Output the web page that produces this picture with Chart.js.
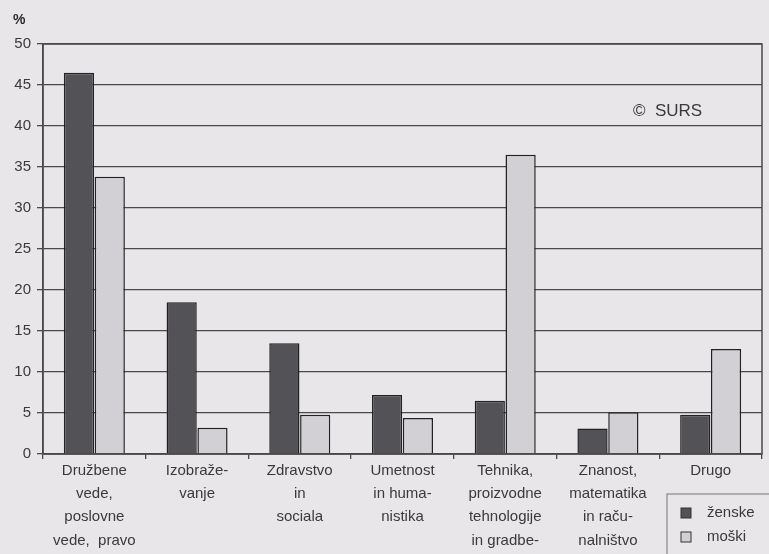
<!DOCTYPE html>
<html>
<head>
<meta charset="utf-8">
<script src="https://cdn.jsdelivr.net/npm/chart.js@4"></script>
<style>
  html, body { margin: 0; padding: 0; background: #e8e6e9; }
  #wrap { width: 769px; height: 554px; position: relative; }
</style>
</head>
<body>
<div id="wrap"><canvas id="chart" width="769" height="554"></canvas></div>
<script>
// podatki
const categories = [
  ['Družbene', 'vede,', 'poslovne', 'vede,  pravo'],
  ['Izobraže-', 'vanje'],
  ['Zdravstvo', 'in', 'sociala'],
  ['Umetnost', 'in huma-', 'nistika'],
  ['Tehnika,', 'proizvodne', 'tehnologije', 'in gradbe-', 'ništvo'],
  ['Znanost,', 'matematika', 'in raču-', 'nalništvo'],
  ['Drugo']
];
const zenske = [46.5, 18.5, 13.5, 7.2, 6.5, 3.1, 4.8];
const moski = [33.8, 3.2, 4.8, 4.4, 36.5, 5.1, 12.8];
const seriesNames = ['ženske', 'moški'];
const yTicks = [0, 5, 10, 15, 20, 25, 30, 35, 40, 45, 50];

const textColor = '#3a3a3a';
const lineColor = '#4a4a4a';
const darkFill = '#535256';
const lightFill = '#d2d0d4';
const font = '"Liberation Sans", Arial, sans-serif';

// ozadje, okvir, % in SURS, legenda
const extras = {
  id: 'extras',
  beforeDraw(chart) {
    const c = chart.ctx;
    c.save();
    c.fillStyle = '#e8e6e9';
    c.fillRect(0, 0, chart.width, chart.height);
    c.restore();
  },
  afterDraw(chart) {
    const c = chart.ctx;
    const a = chart.chartArea;
    c.save();
    c.strokeStyle = lineColor;
    c.lineWidth = 1.5;
    c.strokeRect(a.left, a.top, a.right - a.left, a.bottom - a.top);
    c.fillStyle = '#2a2a2a';
    c.font = 'bold 14px ' + font;
    c.textAlign = 'left';
    c.textBaseline = 'middle';
    c.fillText('%', 13, 20);
    c.fillStyle = textColor;
    c.font = '17px ' + font;
    c.fillText('©  SURS', 633, 111);

    // legenda
    const lx = 667, ly = 494, lw = 110, lh = 62;
    c.fillStyle = '#e8e6e9';
    c.fillRect(lx, ly, lw, lh);
    c.strokeStyle = '#777';
    c.lineWidth = 1;
    c.strokeRect(lx, ly, lw, lh);
    const fills = [darkFill, lightFill];
    c.font = '15px ' + font;
    seriesNames.forEach((name, i) => {
      const y = 513 + i * 24;
      c.fillStyle = fills[i];
      c.fillRect(681, y - 5, 10, 10);
      c.strokeStyle = '#333';
      c.lineWidth = 1;
      c.strokeRect(681, y - 5, 10, 10);
      c.fillStyle = textColor;
      c.fillText(name, 707, y);
    });
    c.restore();
  }
};

new Chart(document.getElementById('chart'), {
  type: 'bar',
  data: {
    labels: categories,
    datasets: [
      {
        label: seriesNames[0],
        data: zenske,
        backgroundColor: darkFill,
        borderColor: '#222',
        borderWidth: 1.5,
        categoryPercentage: 0.6,
        barPercentage: 0.98
      },
      {
        label: seriesNames[1],
        data: moski,
        backgroundColor: lightFill,
        borderColor: '#222',
        borderWidth: 1.5,
        categoryPercentage: 0.6,
        barPercentage: 0.98
      }
    ]
  },
  options: {
    responsive: false,
    animation: false,
    layout: { padding: { left: 0, top: 44, right: 7, bottom: 0 } },
    plugins: {
      legend: { display: false },
      tooltip: { enabled: false }
    },
    scales: {
      x: {
        grid: {
          offset: true,
          drawOnChartArea: false,
          drawTicks: true,
          tickLength: 5,
          color: lineColor,
          lineWidth: 1.3
        },
        border: { color: lineColor, width: 1.5 },
        ticks: {
          color: textColor,
          font: { family: font, size: 15, lineHeight: 1.55 },
          maxRotation: 0,
          autoSkip: false,
          padding: 0
        },
        afterFit(s) { s.height = 100; }
      },
      y: {
        min: 0,
        max: 50,
        afterBuildTicks(s) { s.ticks = yTicks.map(v => ({ value: v })); },
        grid: {
          color: lineColor,
          lineWidth: 1.3,
          tickLength: 6
        },
        border: { color: lineColor, width: 1.5 },
        ticks: {
          color: textColor,
          font: { family: font, size: 15 },
          padding: 6
        },
        afterFit(s) { s.width = 43; }
      }
    }
  },
  plugins: [extras]
});
</script>
</body>
</html>
